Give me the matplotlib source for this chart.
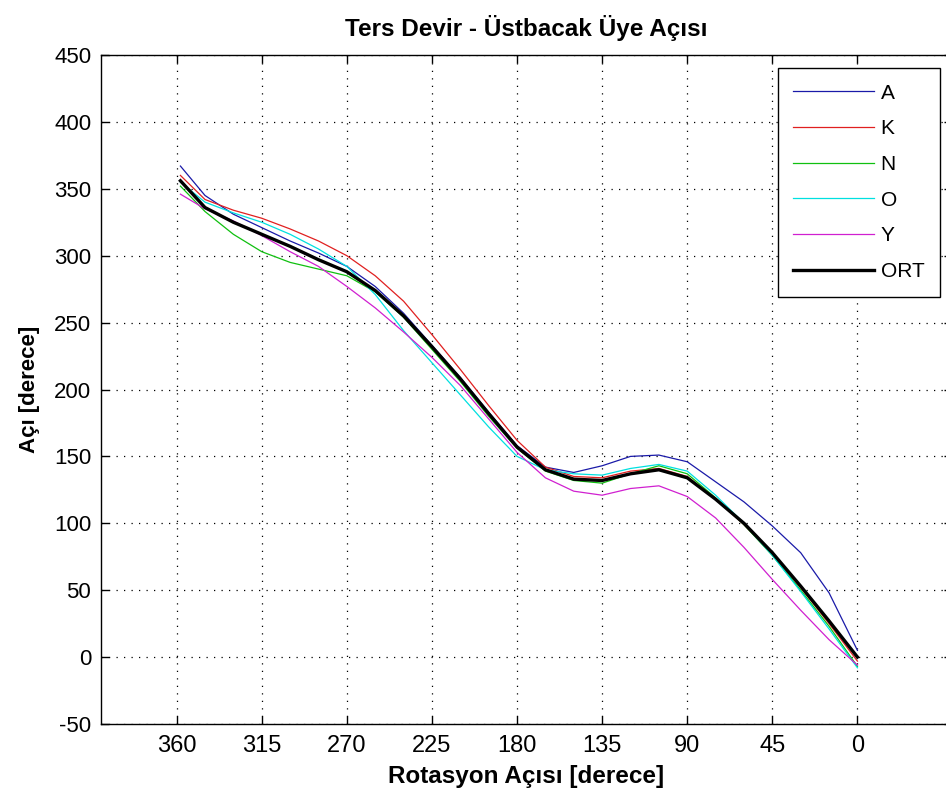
import numpy as np
import matplotlib.pyplot as plt

# -------------------------
# Data
# -------------------------
rot = [358, 345, 330, 315, 300, 285, 270, 255, 240, 225, 210, 195, 180,
       165, 150, 135, 120, 105, 90, 75, 60, 45, 30, 15, 0]

aci_A = [367, 345, 331, 321, 311, 302, 292, 277, 257, 233, 209, 183, 158,
         142, 138, 143, 150, 151, 146, 131, 116, 98, 78, 48, 5]
aci_K = [360, 342, 334, 328, 320, 311, 300, 285, 266, 241, 215, 188, 162,
         142, 135, 134, 139, 141, 135, 118, 99, 77, 52, 25, -3]
aci_N = [352, 333, 316, 303, 295, 290, 285, 273, 254, 230, 206, 180, 156,
         139, 132, 130, 137, 143, 137, 119, 99, 76, 50, 23, -7]
aci_O = [355, 340, 332, 325, 316, 305, 292, 271, 244, 220, 196, 172, 150,
         140, 137, 136, 141, 144, 139, 121, 100, 76, 49, 21, -8]
aci_Y = [346, 335, 326, 315, 303, 292, 277, 261, 243, 224, 203, 178, 153,
         134, 124, 121, 126, 128, 120, 104, 82, 58, 35, 13, -6]
aci_ORT = [356, 336, 325, 316, 307, 297, 288, 274, 255, 232, 208, 182, 157,
           140, 133, 132, 137, 140, 134, 118, 100, 78, 53, 27, 0]

series = [
    ("A", aci_A, "#1a1aa8", 0.9),
    ("K", aci_K, "#e02020", 0.9),
    ("N", aci_N, "#10c010", 0.9),
    ("O", aci_O, "#00e0e0", 0.9),
    ("Y", aci_Y, "#d020d0", 0.9),
    ("ORT", aci_ORT, "black", 2.4),
]

xticks = [360, 315, 270, 225, 180, 135, 90, 45, 0]
yticks = [-50, 0, 50, 100, 150, 200, 250, 300, 350, 400, 450]

plt.rcParams["font.family"] = ["Liberation Sans", "DejaVu Sans"]
plt.rcParams["axes.unicode_minus"] = False

fig = plt.figure(figsize=(9.46, 7.96), dpi=100)
ax = fig.add_axes([101 / 946, 72 / 796, 851 / 946, 669 / 796])

for name, vals, col, lw in series:
    ax.plot(rot, vals, color=col, lw=lw, label=name)

ax.set_xlim(400, -50)
ax.set_ylim(-50, 450)
ax.set_xticks(xticks)
ax.set_yticks(yticks)
ax.tick_params(direction="in", top=True, right=True, length=6, width=1)
ax.tick_params(axis="y", labelsize=16, pad=7)
ax.tick_params(axis="x", labelsize=17, pad=8)
ax.grid(True, color="black", linestyle=(0, (1, 5)), linewidth=0.9)
for sp in ax.spines.values():
    sp.set_linewidth(1)

ax.set_title("Ters Devir - Üstbacak Üye Açısı", fontsize=17.5, fontweight="bold", pad=14)
ax.set_xlabel("Rotasyon Açısı [derece]", fontsize=17.5, fontweight="bold", labelpad=6)
ax.set_ylabel("Açı [derece]", fontsize=16, fontweight="bold", labelpad=10)

leg = ax.legend(loc="upper right", bbox_to_anchor=(940 / 946, 1 - 68 / 796),
                bbox_transform=fig.transFigure, fontsize=15, frameon=True,
                fancybox=False, framealpha=1, edgecolor="black",
                handlelength=3.9, labelspacing=0.8, borderpad=0.75,
                handletextpad=0.3, borderaxespad=0)
leg.get_frame().set_linewidth(1)

fig.savefig("out.png", dpi=100)
